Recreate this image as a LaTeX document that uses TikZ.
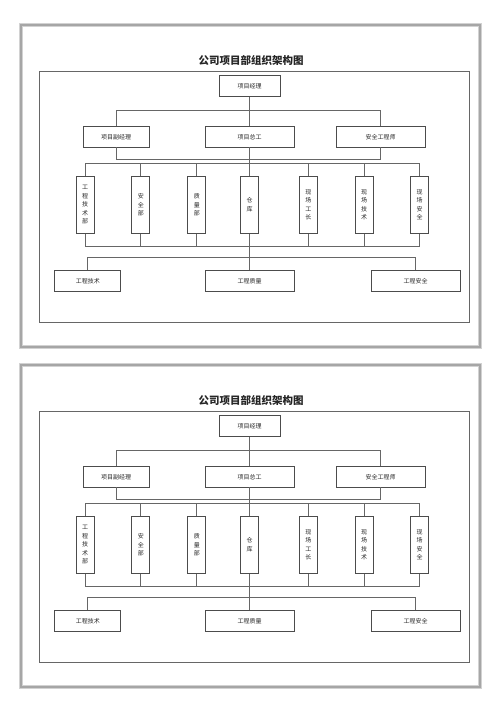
\documentclass[tikz,border=0pt]{standalone}
\usepackage{fontspec}
\setmainfont{Noto Sans CJK SC}
\usetikzlibrary{positioning}

\begin{document}
\begin{tikzpicture}[x=1pt,y=-1pt]
    \tikzstyle{block} = [rectangle, draw=black!70, line width=0.8pt, fill=white,
    inner sep=0pt, text=black!85,
    font=\fontsize{6}{7}\selectfont]
    \tikzstyle{wide} = [block, minimum width=89pt, minimum height=20.5pt]
    \tikzstyle{narrow} = [block, minimum width=66pt, minimum height=20.5pt]
    \tikzstyle{tall} = [block, minimum width=18pt, minimum height=57.5pt,
    align=center, font=\fontsize{6}{8.5}\selectfont]
    \tikzstyle{line} = [draw, black!60, line width=0.7pt]

    \useasboundingbox (0,0) rectangle (500,707);

    % Define both pages
    \foreach \dy/\pg in {0/a,340/b} {
    \begin{scope}[shift={(0,\dy)}, name prefix=\pg-]
      % page frame
      \draw[gray!35, line width=4pt] (21,25) rectangle (480,347);
      \draw[gray!70, line width=2pt] (21,25) rectangle (480,347);
      \node[font=\fontsize{10.5}{12}\selectfont\bfseries, text=black!85] (title) at (251,60) {公司项目部组织架构图};
      \draw[black!60, line width=0.8pt] (39.5,71.5) rectangle (469,322.5);

      % Define boxes
      \node[block, minimum width=61pt, minimum height=21pt] (pm) at (249.5,86) {项目经理};
      \node[narrow] (fjl) at (116,136.75) {项目副经理};
      \node[wide] (zg) at (249.5,136.75) {项目总工};
      \node[wide] (aqs) at (380.5,136.75) {安全工程师};
      \foreach \n/\x/\t in {jsb/85/{工\\程\\技\\术\\部}, aqb/140.75/{安\\全\\部},
        zlb/196.75/{质\\量\\部}, ck/249.5/{仓\\库}, xgz/308.25/{现\\场\\工\\长},
        xjs/364/{现\\场\\技\\术}, xaq/419.5/{现\\场\\安\\全}}
        \node[tall] (\n) at (\x,204.75) {\t};
      \node[narrow] (gjs) at (87.75,281) {工程技术};
      \node[wide] (gzl) at (249.5,281) {工程质量};
      \node[wide] (gaq) at (415.5,281) {工程安全};

      % trunk
      \path[line] (pm) -- (zg);
      \path[line] (zg) -- (ck);
      \path[line] (ck) -- (gzl);
      % buses
      \path[line] (fjl.north) -- ++(0,-15.5) -| (aqs.north);
      \path[line] (fjl.south) -- ++(0,12) -| (aqs.south);
      \path[line] (jsb.north) -- ++(0,-12.5) -| (xaq.north);
      \path[line] (jsb.south) -- ++(0,12.5) -| (xaq.south);
      \foreach \n in {aqb,zlb,xgz,xjs} {
        \path[line] (\n.north) -- ++(0,-12.5);
        \path[line] (\n.south) -- ++(0,12.5);
      }
      \path[line] (gjs.north) -- ++(0,-13) -| (gaq.north);
    \end{scope}
    }

  \end{tikzpicture}
\end{document}
